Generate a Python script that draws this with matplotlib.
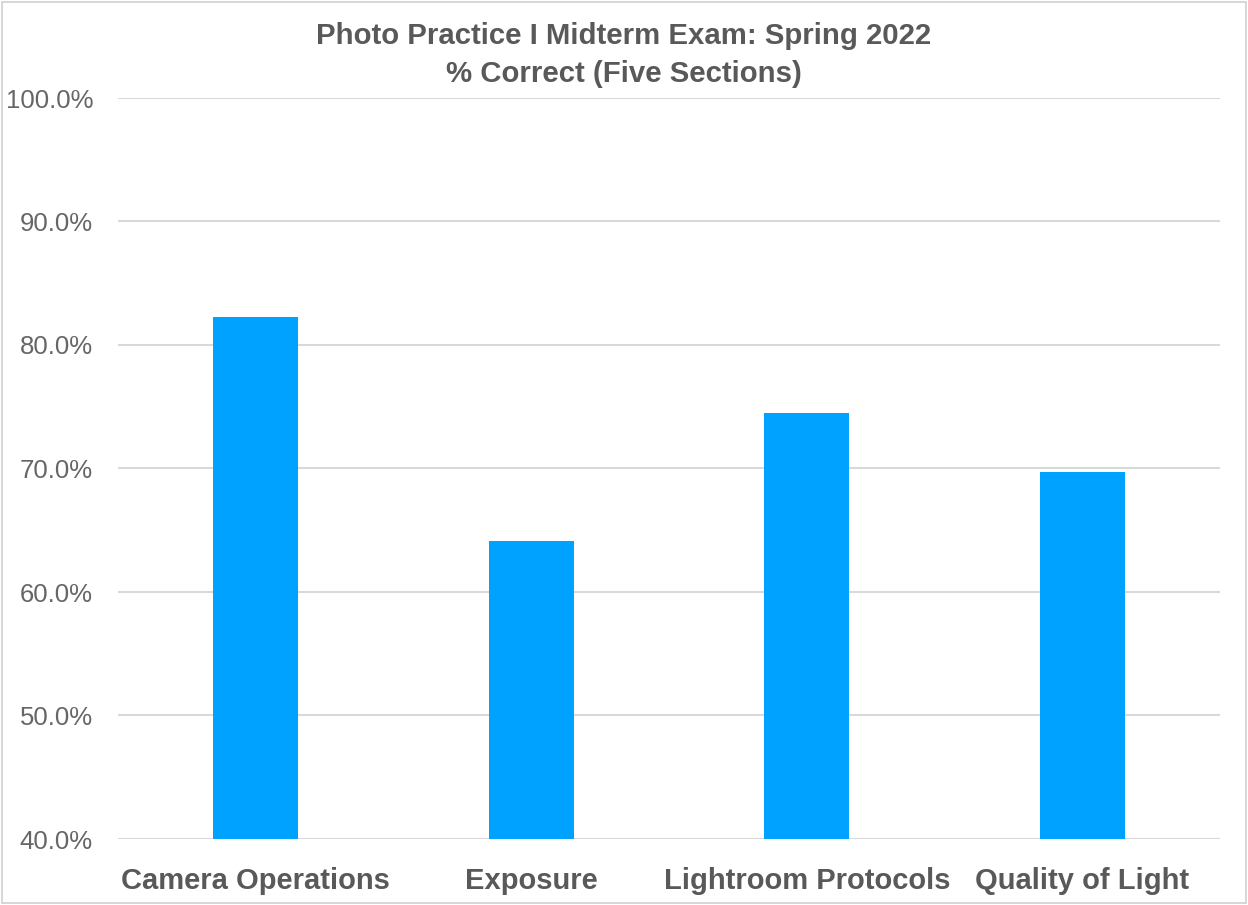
import matplotlib
matplotlib.use("Agg")
import matplotlib.pyplot as plt
from matplotlib.patches import Rectangle
from matplotlib.ticker import FuncFormatter, MultipleLocator

categories = ["Camera Operations", "Exposure", "Lightroom Protocols", "Quality of Light"]
values = [82.3, 64.1, 74.5, 69.7]
title = "Photo Practice I Midterm Exam: Spring 2022\n% Correct (Five Sections)"

plt.rcParams['font.family'] = ['Liberation Sans', 'DejaVu Sans']

fig = plt.figure(figsize=(12.48, 9.05), dpi=100)
ax = fig.add_axes([118/1248, 66/905, (1220-118)/1248, (839-98)/905])

x = range(len(categories))
ax.bar(x, values, width=0.31, color="#00A2FF", zorder=3)
ax.set_xlim(-0.5, len(categories) - 0.5)
ax.set_ylim(40, 100)
ax.yaxis.set_major_locator(MultipleLocator(10))
ax.yaxis.set_major_formatter(FuncFormatter(lambda v, p: f"{v:.1f}%"))
ax.grid(axis='y', color="#d9d9d9", linewidth=1.5, zorder=0)
for s in ax.spines.values():
    s.set_visible(False)
ax.tick_params(axis='y', length=0, pad=18, labelsize=18.5, labelcolor="#666666")
ax.tick_params(axis='x', length=0, pad=20, labelsize=21, labelcolor="#595959")
ax.set_xticks(list(x))
ax.set_xticklabels(categories, fontweight='bold')

fig.text(0.5, 1 - 22/905, title, ha='center', va='top', fontsize=21.2,
         fontweight='bold', color="#595959", linespacing=1.45,
         transform=fig.transFigure)

fig.patches.append(Rectangle((2/1248, 2/905), 1 - 4/1248, 1 - 4/905,
                             transform=fig.transFigure, fill=False,
                             edgecolor="#d0d0d0", linewidth=1.2))

fig.savefig("out.png", dpi=100)
